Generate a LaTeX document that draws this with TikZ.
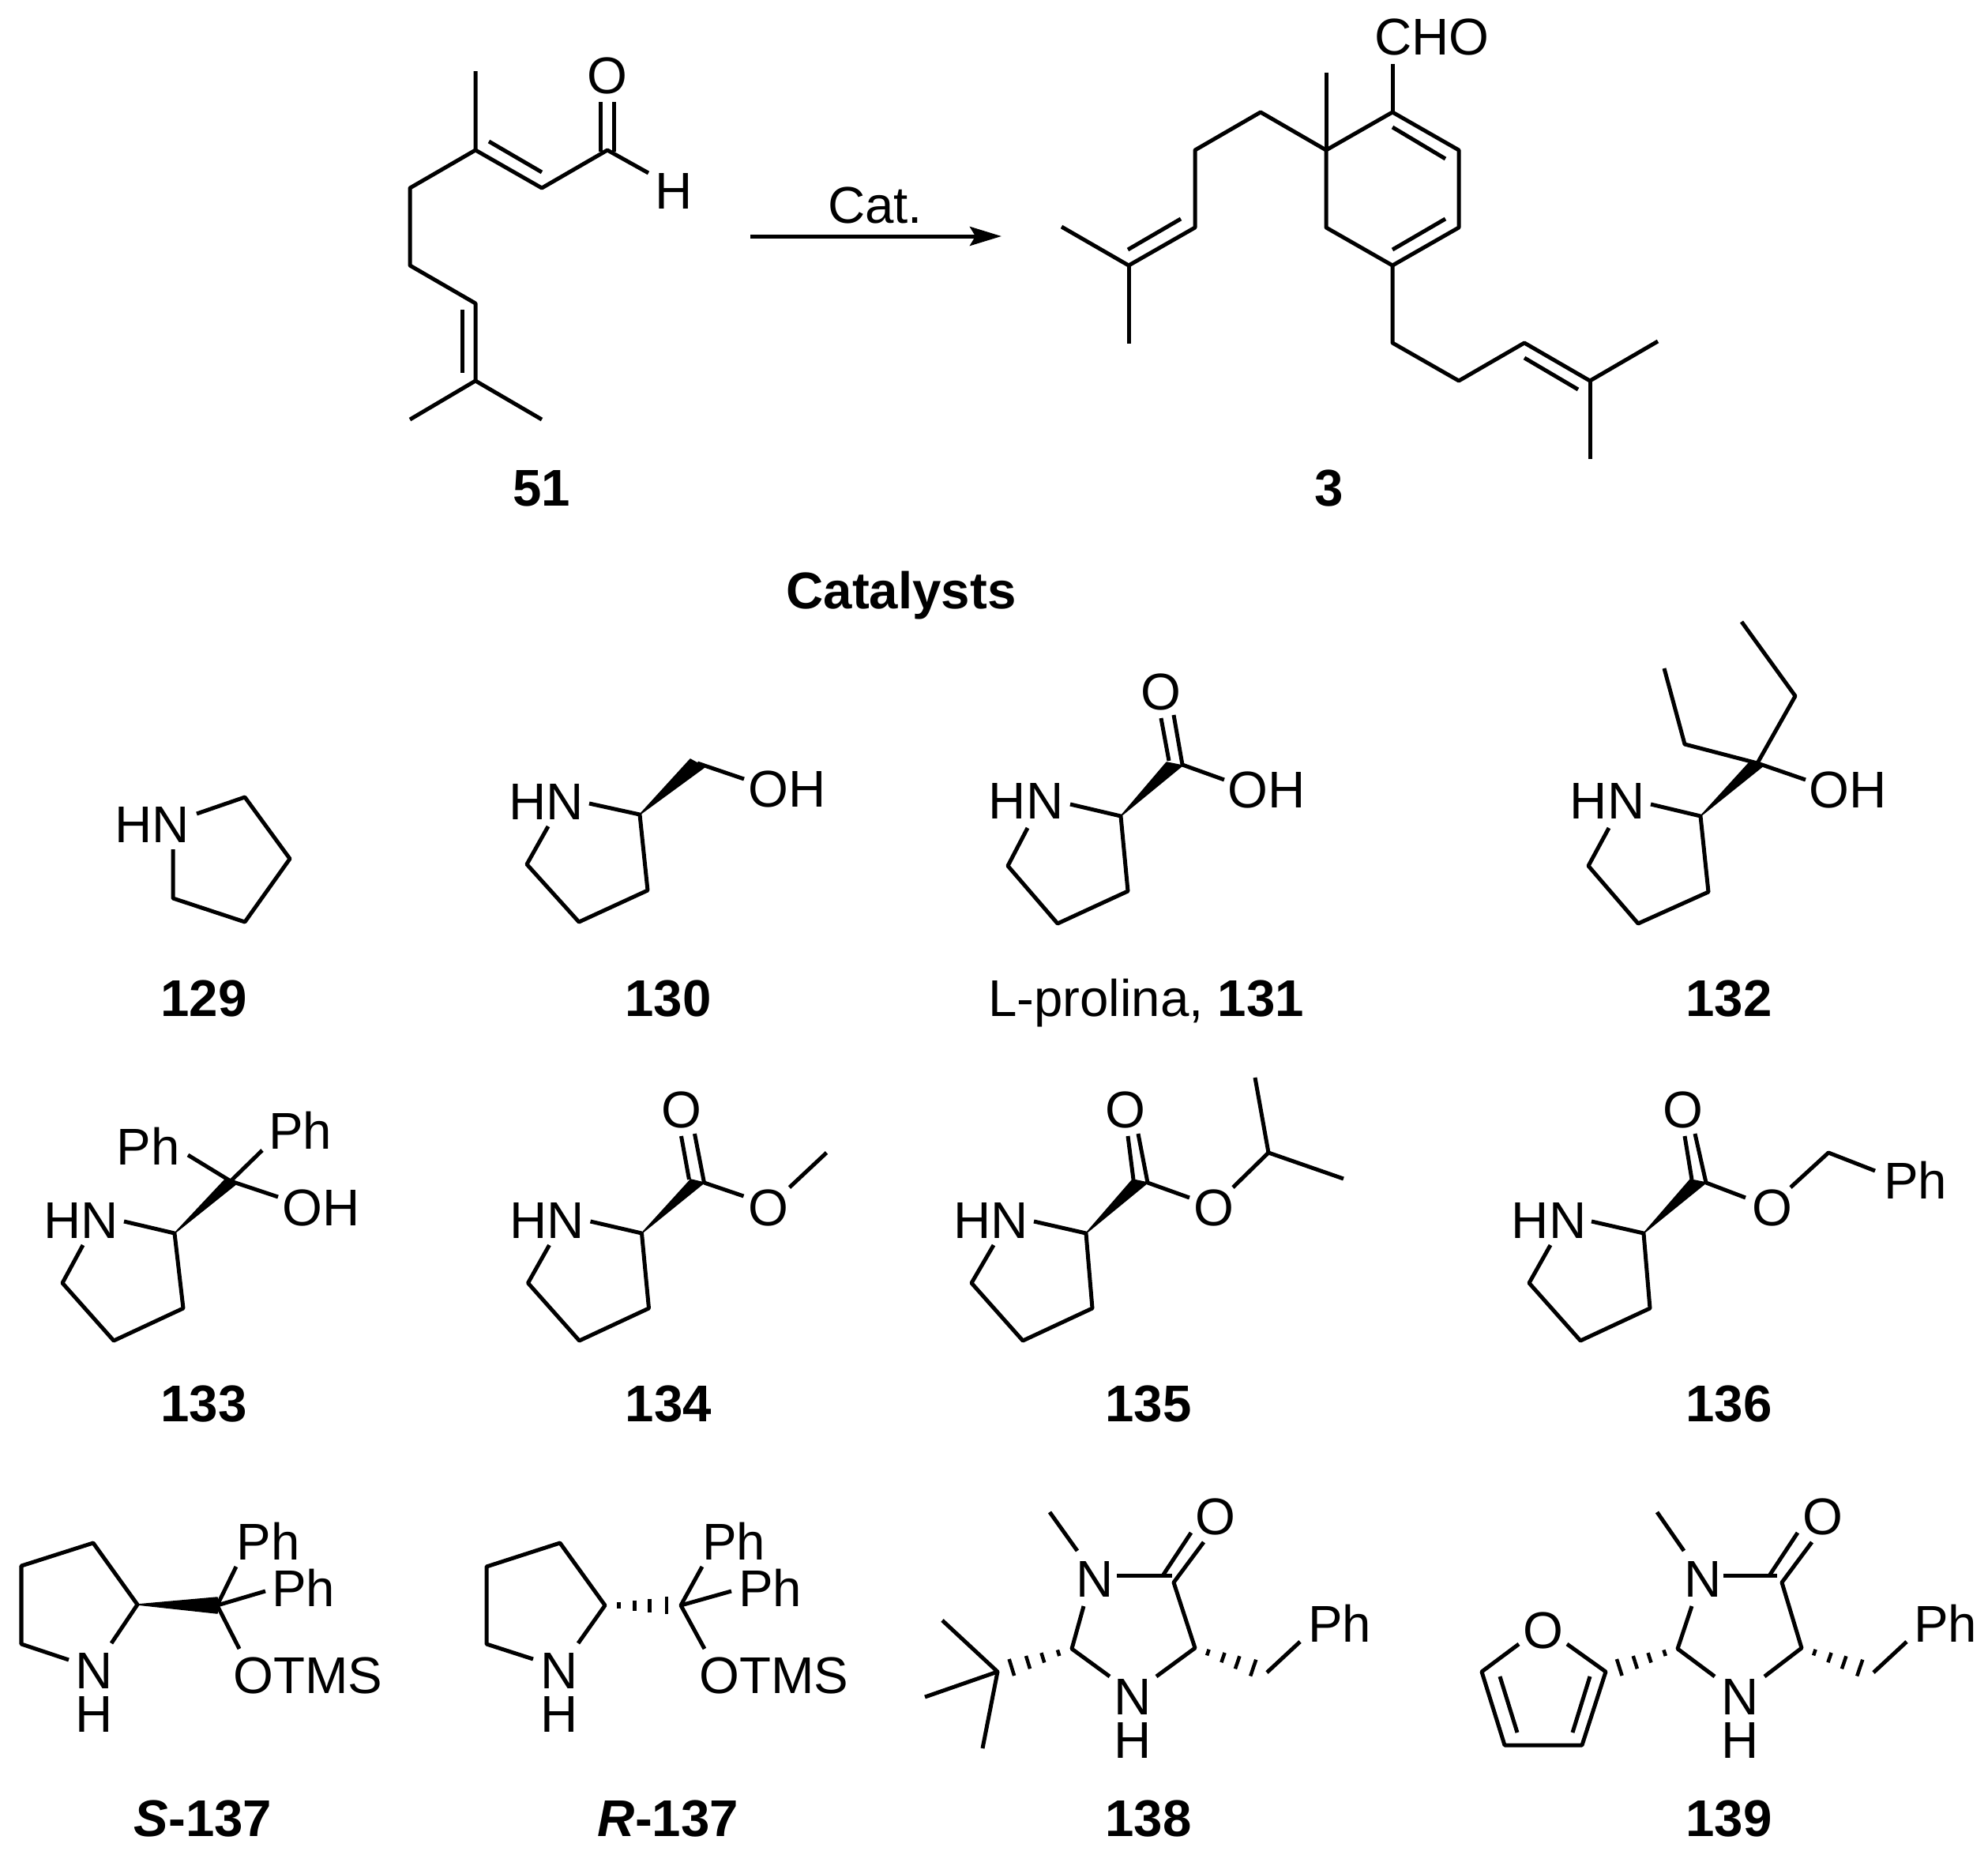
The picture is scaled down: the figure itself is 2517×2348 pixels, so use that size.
\documentclass[tikz,border=0pt]{standalone}
\usepackage{fontspec}
\setmainfont{Liberation Sans}
\usetikzlibrary{arrows.meta,calc}
\tikzset{
  bond/.style={line width=0.05cm, line join=round},
  wedgebond/.style={fill=black, draw=black, line width=0.015cm, line join=round},
  atom/.style={font=\fontsize{18.6}{23}\selectfont, inner sep=0pt, anchor=base, yshift=-0.23cm},
  lbl/.style={atom, font=\fontsize{18.6}{23}\selectfont\bfseries}
}
% hashed bond from #1 to #2
\newcommand{\hashbond}[2]{
  \foreach \t/\w in {0.18/0.04cm, 0.39/0.065cm, 0.59/0.085cm, 0.81/0.11cm} {
    \path (#1) -- (#2) coordinate[pos=\t] (hh);
    \draw[line width=0.045cm] ($(hh)!\w!90:(#2)$) -- ($(hh)!\w!-90:(#2)$);
  }
}
\begin{document}
\begin{tikzpicture}[x=0.01cm, y=-0.01cm]
\useasboundingbox (0,0) rectangle (2517,2348);

% 51
\begin{scope}[xshift=-0.01cm]
\draw[bond] (603,90) -- (603,190) -- (687,238) -- (770,190) -- (822,219);
\draw[bond] (603,190) -- (520,238) -- (520,336) -- (603,384) -- (603,482) -- (520,531);
\draw[bond] (603,482) -- (687,531);
\draw[bond] (620,179) -- (687,218);
\draw[bond] (586,392) -- (586,472);
\draw[bond] (761,129) -- (761,192);
\draw[bond] (778,129) -- (778,192);
\node[atom] (o51) at (770,95) {O};
\node[atom] (h51) at (854,241) {H};
\node[lbl] (lbl51) at (687,617) {51};
\end{scope}

% arrow
\coordinate (arrowa) at (950,299);
\coordinate (arrowb) at (1268,299);
\draw[bond, -{Stealth[length=0.4cm, width=0.24cm, inset=0.07cm]}] (arrowa) -- (arrowb);
\node[atom] (cat) at (1108,259) {Cat.};

% 3
\begin{scope}[xshift=-0.02cm]
\draw[bond] (1765,142) -- (1849,190) -- (1849,288) -- (1765,336) -- (1681,288) -- (1681,190) -- cycle;
\draw[bond] (1765,161) -- (1832,201);
\draw[bond] (1832,277) -- (1765,316);
\draw[bond] (1765,81) -- (1765,142);
\draw[bond] (1681,92) -- (1681,190);
\draw[bond] (1681,190) -- (1598,142) -- (1515,190) -- (1515,288) -- (1431,336) -- (1346,287);
\draw[bond] (1431,336) -- (1431,435);
\draw[bond] (1497,277) -- (1430,316);
\draw[bond] (1765,336) -- (1765,434) -- (1849,482) -- (1932,434) -- (2015,482) -- (2101,432);
\draw[bond] (2015,482) -- (2015,581);
\draw[bond] (1932,453) -- (2000,493);
\node[atom] (cho3) at (1815,46) {CHO};
\node[lbl] (lbl3) at (1685,617) {3};
\end{scope}

\node[lbl] (catalysts) at (1141,747) {Catalysts};

% 129
\draw[bond] (249,1030) -- (310,1009) -- (367,1087) -- (310,1167) -- (219,1137) -- (219,1075);
\node[atom] (hn129) at (193,1043) {HN};
\node[lbl] (lbl129) at (258,1263) {129};

% 130
\begin{scope}[xshift=-0.03cm]
\draw[bond] (749,1017) -- (813,1031) -- (823,1127) -- (736,1167) -- (670,1094) -- (697,1046);
\draw[wedgebond] (813,1031) -- (877,961) -- (895,971) -- cycle;
\draw[bond] (886,966) -- (945,986);
\node[atom] (hn130) at (695,1014) {HN};
\node[atom] (oh130) at (1000,998) {OH};
\node[lbl] (lbl130) at (849,1263) {130};
\end{scope}

% 131
\begin{scope}[xshift=-0.01cm]
\draw[bond] (1356,1018) -- (1420,1033) -- (1429,1128) -- (1340,1169) -- (1277,1096) -- (1302,1048);
\draw[wedgebond] (1420,1033) -- (1478,965) -- (1498,969) -- cycle;
\draw[bond] (1471,909) -- (1481,963);
\draw[bond] (1487,905) -- (1498,968) -- (1551,987);
\node[atom] (hn131) at (1300,1013) {HN};
\node[atom] (o131) at (1471,875) {O};
\node[atom] (oh131) at (1605,999) {OH};
\node[atom] (lbl131) at (1452,1263) {L-prolina, \textbf{131}};
\end{scope}

% 132
\begin{scope}[xshift=-0.04cm]
\draw[bond] (2094,1018) -- (2157,1033) -- (2167,1129) -- (2078,1169) -- (2015,1096) -- (2041,1048);
\draw[wedgebond] (2157,1033) -- (2219,965) -- (2238,968) -- cycle;
\draw[bond] (2209,787) -- (2277,881) -- (2229,966) -- (2137,942) -- (2111,846);
\draw[bond] (2229,966) -- (2290,987);
\node[atom] (hn132) at (2039,1013) {HN};
\node[atom] (oh132) at (2344,999) {OH};
\node[lbl] (lbl132) at (2193,1263) {132};
\end{scope}

% 133
\begin{scope}[xshift=-0.01cm]
\draw[bond] (158,1546) -- (222,1561) -- (233,1656) -- (145,1697) -- (80,1624) -- (106,1576);
\draw[wedgebond] (222,1561) -- (286,1493) -- (302,1497) -- cycle;
\draw[bond] (239,1462) -- (293,1495) -- (353,1515);
\draw[bond] (333,1456) -- (293,1495);
\node[atom] (hn133) at (104,1544) {HN};
\node[atom] (pha133) at (189,1451) {Ph};
\node[atom] (phb133) at (381,1431) {Ph};
\node[atom] (oh133) at (408,1528) {OH};
\node[lbl] (lbl133) at (259,1776) {133};
\end{scope}

% 134
\begin{scope}[xshift=-0.035cm]
\draw[bond] (751,1546) -- (816,1561) -- (825,1656) -- (737,1697) -- (672,1624) -- (699,1576);
\draw[wedgebond] (816,1561) -- (878,1493) -- (895,1497) -- cycle;
\draw[bond] (866,1438) -- (876,1493);
\draw[bond] (883,1435) -- (895,1497) -- (945,1514);
\draw[bond] (1003,1503) -- (1050,1459);
\node[atom] (hn134) at (696,1544) {HN};
\node[atom] (oa134) at (866,1404) {O};
\node[atom] (ob134) at (976,1528) {O};
\node[lbl] (lbl134) at (850,1776) {134};
\end{scope}

% 135
\begin{scope}[xshift=-0.01cm]
\draw[bond] (1310,1546) -- (1376,1561) -- (1384,1656) -- (1296,1697) -- (1231,1624) -- (1259,1576);
\draw[wedgebond] (1376,1561) -- (1435,1493) -- (1454,1497) -- cycle;
\draw[bond] (1429,1438) -- (1436,1493);
\draw[bond] (1442,1435) -- (1454,1497) -- (1507,1516);
\draw[bond] (1562,1503) -- (1607,1459) -- (1590,1364);
\draw[bond] (1607,1459) -- (1702,1492);
\node[atom] (hn135) at (1256,1544) {HN};
\node[atom] (oa135) at (1426,1404) {O};
\node[atom] (ob135) at (1538,1528) {O};
\node[lbl] (lbl135) at (1455,1776) {135};
\end{scope}

% 136
\begin{scope}[xshift=-0.04cm]
\draw[bond] (2019,1546) -- (2085,1561) -- (2093,1656) -- (2005,1697) -- (1940,1624) -- (1967,1576);
\draw[wedgebond] (2085,1561) -- (2144,1493) -- (2164,1497) -- cycle;
\draw[bond] (2137,1438) -- (2146,1493);
\draw[bond] (2150,1435) -- (2164,1497) -- (2214,1516);
\draw[bond] (2271,1503) -- (2319,1459) -- (2378,1482);
\node[atom] (hn136) at (1965,1544) {HN};
\node[atom] (oa136) at (2135,1404) {O};
\node[atom] (ob136) at (2248,1528) {O};
\node[atom] (ph136) at (2429,1494) {Ph};
\node[lbl] (lbl136) at (2193,1776) {136};
\end{scope}

% S-137
\begin{scope}[xshift=-0.01cm]
\draw[bond] (142,2080) -- (175,2031) -- (119,1953) -- (28,1982) -- (28,2081) -- (88,2101);
\draw[wedgebond] (175,2031) -- (276,2022) -- (276,2042) -- cycle;
\draw[bond] (300,1983) -- (276,2032) -- (304,2087);
\draw[bond] (276,2032) -- (337,2014);
\node[atom] (n137s) at (120,2114) {N};
\node[atom] (h137s) at (120,2169) {H};
\node[atom] (pha137s) at (341,1951) {Ph};
\node[atom] (phb137s) at (385,2010) {Ph};
\node[atom] (otms137s) at (391,2120) {OTMS};
\node[lbl] (lbl137s) at (258,2301) {\textit{S}-137};
\end{scope}

% R-137
\begin{scope}[xshift=-0.03cm]
\coordinate (c137r) at (769,2032);
\coordinate (d137r) at (865,2032);
\draw[bond] (735,2080) -- (c137r) -- (712,1953) -- (619,1983) -- (619,2081) -- (678,2100);
\hashbond{c137r}{d137r}
\draw[bond] (892,1983) -- (d137r) -- (895,2087);
\draw[bond] (d137r) -- (929,2014);
\node[atom] (n137r) at (711,2114) {N};
\node[atom] (h137r) at (711,2169) {H};
\node[atom] (pha137r) at (932,1951) {Ph};
\node[atom] (phb137r) at (978,2010) {Ph};
\node[atom] (otms137r) at (983,2120) {OTMS};
\node[lbl] (lbl137r) at (849,2301) {\textit{R}-137};
\end{scope}

% 138
\begin{scope}[xshift=-0.01cm]
\coordinate (c138) at (1358,2087);
\coordinate (tbu138) at (1264,2116);
\coordinate (e138) at (1514,2086);
\coordinate (f138) at (1605,2117);
\draw[bond] (1330,1914) -- (1365,1963);
\draw[bond] (1415,1994) -- (1485,1994);
\draw[bond] (1474,1993) -- (1509,1940);
\draw[bond] (1525,1952) -- (1487,2003) -- (e138) -- (1465,2122);
\draw[bond] (1373,2033) -- (c138) -- (1406,2122);
\hashbond{c138}{tbu138}
\hashbond{e138}{f138}
\draw[bond] (1194,2051) -- (tbu138) -- (1172,2148);
\draw[bond] (tbu138) -- (1245,2213);
\draw[bond] (f138) -- (1647,2078);
\node[atom] (na138) at (1387,1998) {N};
\node[atom] (nb138) at (1435,2147) {N};
\node[atom] (h138) at (1435,2202) {H};
\node[atom] (o138) at (1540,1919) {O};
\node[atom] (ph138) at (1697,2055) {Ph};
\node[lbl] (lbl138) at (1455,2301) {138};
\end{scope}

% 139
\begin{scope}[xshift=-0.04cm]
\coordinate (c139) at (2128,2087);
\coordinate (fur139) at (2037,2116);
\coordinate (e139) at (2285,2086);
\coordinate (f139) at (2376,2117);
\draw[bond] (2102,1914) -- (2136,1963);
\draw[bond] (2186,1994) -- (2254,1994);
\draw[bond] (2245,1993) -- (2280,1940);
\draw[bond] (2298,1952) -- (2260,2003) -- (e139) -- (2238,2122);
\draw[bond] (2146,2033) -- (c139) -- (2175,2122);
\hashbond{c139}{fur139}
\hashbond{e139}{f139}
\draw[bond] (f139) -- (2418,2078);
\draw[bond] (1988,2081) -- (fur139) -- (2007,2209) -- (1909,2209) -- (1880,2116) -- (1927,2081);
\draw[bond] (2017,2122) -- (1995,2193);
\draw[bond] (1903,2122) -- (1925,2193);
\node[atom] (na139) at (2160,1998) {N};
\node[atom] (nb139) at (2207,2147) {N};
\node[atom] (h139) at (2207,2202) {H};
\node[atom] (oa139) at (2312,1919) {O};
\node[atom] (ob139) at (1958,2063) {O};
\node[atom] (ph139) at (2467,2055) {Ph};
\node[lbl] (lbl139) at (2193,2301) {139};
\end{scope}
\end{tikzpicture}
\end{document}
